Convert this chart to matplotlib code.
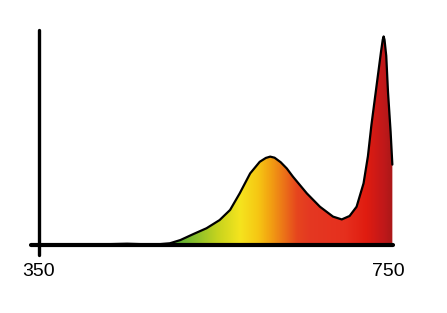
import numpy as np
import matplotlib
matplotlib.use('Agg')
import matplotlib.pyplot as plt
from matplotlib.colors import LinearSegmentedColormap, Normalize
from matplotlib.patches import Polygon

# spectrum (wavelength in nm, relative intensity)
wavelength = [350, 420, 451, 483, 500, 512, 527, 542, 557, 569, 580, 592, 603,
              610, 615, 620, 627, 634, 641, 657, 672, 687, 697, 706, 714, 722,
              727, 731, 737, 742, 744, 745, 746, 748, 750, 753, 755]
intensity = [0.0, 0.003, 0.006, 0.002, 0.008, 0.023, 0.051, 0.078, 0.116, 0.163,
             0.240, 0.333, 0.387, 0.405, 0.411, 0.406, 0.385, 0.356, 0.318, 0.240,
             0.178, 0.132, 0.119, 0.135, 0.178, 0.287, 0.413, 0.558, 0.744, 0.899,
             0.955, 0.970, 0.955, 0.880, 0.713, 0.527, 0.374]

# colour stops of the fill (nm, colour)
stop_nm = [500, 530, 555, 580, 600, 615, 630, 645, 660, 700, 725, 745, 756]
stop_col = ['#4ca83a', '#8cc02a', '#c8d41e', '#f5e41e', '#f6c814', '#f2a012',
            '#ec7418', '#e6461e', '#e43822', '#e6301e', '#e01c10', '#c0181a', '#a81818']

tick_pos = [350, 750]
tick_lab = ['350', '750']

x = np.array(wavelength, dtype=float)
y = np.array(intensity, dtype=float)

fig = plt.figure(figsize=(4.47, 3.13), dpi=100)
ax = fig.add_axes([0.0678, 0.1829, 0.8197, 0.7213])
ax.set_xlim(340, 760)
ax.set_ylim(-0.05, 1.0)

lo, hi = stop_nm[0], stop_nm[-1]
cmap = LinearSegmentedColormap.from_list(
    'spec', [((n - lo) / (hi - lo), c) for n, c in zip(stop_nm, stop_col)])
grad = np.linspace(lo, hi, 600).reshape(1, -1)
im = ax.imshow(grad, cmap=cmap, norm=Normalize(lo, hi), aspect='auto',
               extent=(lo, hi, 0, 1), origin='lower', zorder=1)
verts = np.column_stack([np.r_[x, x[-1], x[0]], np.r_[y, 0, 0]])
clip = Polygon(verts, closed=True, facecolor='none', edgecolor='none',
               transform=ax.transData)
ax.add_patch(clip)
im.set_clip_path(clip)

ax.plot(x, y, color='black', lw=1.6, solid_capstyle='round',
        solid_joinstyle='round', zorder=3)

# hand drawn axes
ax.plot([350, 350], [-0.047, 1.0], color='black', lw=2.4, clip_on=False,
        solid_capstyle='round', zorder=4)
ax.plot([341, 755.5], [0, 0], color='black', lw=3.0, clip_on=False,
        solid_capstyle='round', zorder=4)

for s in ax.spines.values():
    s.set_visible(False)
ax.set_yticks([])
ax.set_xticks(tick_pos)
ax.set_xticklabels(tick_lab, fontfamily='Liberation Sans', fontsize=14)
ax.tick_params(axis='x', length=0, pad=5)

fig.savefig('out.png', dpi=100)
